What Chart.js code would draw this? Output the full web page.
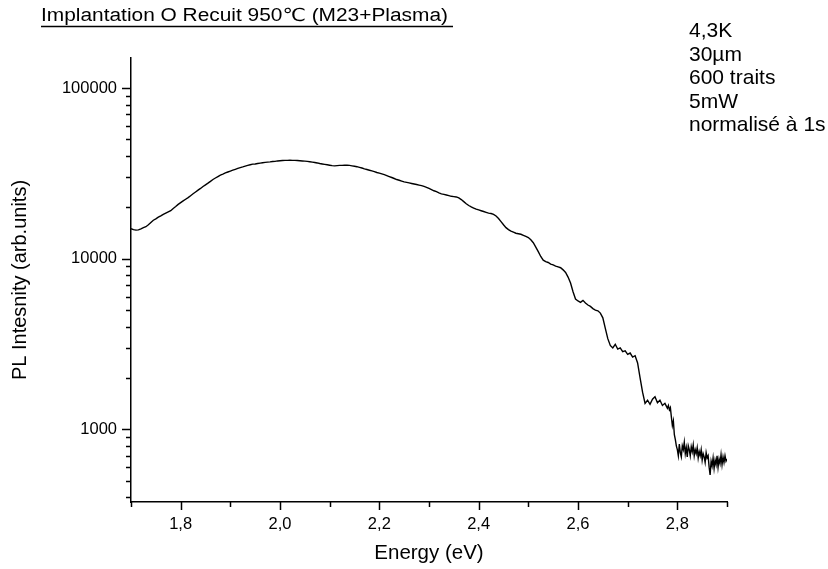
<!DOCTYPE html>
<html>
<head>
<meta charset="utf-8">
<script src="https://cdn.jsdelivr.net/npm/chart.js@4.4.1/dist/chart.umd.min.js"></script>
<style>
html,body{margin:0;padding:0;background:#fff;}
canvas{display:block;}
</style>
</head>
<body>
<canvas id="c" width="828" height="569"></canvas>
<script>
// ---- data ----
const chartTitle = "Implantation O Recuit 950\u2103 (M23+Plasma)";
const notes = ["4,3K", "30\u00b5m", "600 traits", "5mW", "normalis\u00e9 \u00e0 1s"];
const xAxisTitle = "Energy (eV)";
const yAxisTitle = "PL Intesnity (arb.units)";

// main part of the spectrum: grid 1.700 ... 2.775 eV, step 0.005 eV
const mainStart = 1.70;
const mainStep = 0.005;
const mainIntensities = [
  15000,14800,14700,14750,14950,15200,15400,15800,16300,16800,
  17100,17500,17800,18200,18500,18800,19100,19700,20200,20800,
  21300,21800,22300,22800,23400,24000,24600,25200,25800,26500,
  27100,27700,28400,29100,29700,30300,30900,31300,31800,32200,
  32600,33000,33400,33800,34200,34500,34900,35200,35500,35800,
  35900,36100,36300,36500,36700,36800,36900,37100,37200,37400,
  37500,37600,37700,37700,37800,37700,37700,37600,37500,37400,
  37300,37200,37000,36800,36600,36400,36100,35900,35700,35500,
  35300,35100,35000,35100,35200,35200,35300,35300,35200,35000,
  34800,34600,34300,34000,33600,33300,33000,32700,32400,32000,
  31700,31400,31100,30700,30300,29900,29500,29100,28800,28500,
  28200,28000,27800,27600,27400,27200,27000,26800,26500,26200,
  25800,25400,25000,24700,24300,24000,23800,23600,23400,23200,
  23100,23000,22700,22200,21600,21000,20500,20100,19800,19500,
  19300,19100,18900,18700,18500,18400,18200,17800,17200,16500,
  15800,15200,14800,14500,14300,14100,14000,13900,13700,13500,
  13300,12900,12400,11700,11000,10300,9800,9600,9500,9300,
  9200,9050,8950,8850,8600,8300,7800,7200,6400,5800,
  5650,5550,5700,5500,5350,5250,5100,5000,4950,4800,
  4500,3900,3400,3100,3000,3150,2950,3000,2850,2880,
  2750,2800,2650,2700,2450,2000,1650,1420,1480,1400,
  1500,1550,1430,1480,1380,1420
];

// noisy tail of the spectrum: grid 2.780 ... 2.900 eV, step 0.002 eV
const tailStart = 2.78;
const tailStep = 0.002;
const tailIntensities = [
  1330,1380,1300,1340,1180,1050,1120,930,870,800,
  760,700,820,730,690,800,760,840,720,780,
  690,800,760,700,790,740,810,700,760,720,
  780,680,740,700,760,660,720,690,640,730,
  680,700,600,540,650,610,680,590,660,620,
  700,600,670,630,710,620,690,640,700,650,
  670
];

// axis ranges and ticks
const xMin = 1.7, xMax = 2.9;
const yMin = 375, yMax = 150000;
const xMajorTicks = [1.8, 2.0, 2.2, 2.4, 2.6, 2.8];
const xMinorTicks = [1.7, 1.9, 2.1, 2.3, 2.5, 2.7, 2.9];
const yMajorTicks = [1000, 10000, 100000];
const yMinorTicks = [400,500,600,700,800,900,
                     2000,3000,4000,5000,6000,7000,8000,9000,
                     20000,30000,40000,50000,60000,70000,80000,90000];

const points = mainIntensities.map((v, i) => ({ x: +(mainStart + i * mainStep).toFixed(4), y: v }))
  .concat(tailIntensities.map((v, i) => ({ x: +(tailStart + i * tailStep).toFixed(4), y: v })));

const FONT = "'Liberation Sans', Arial, 'DejaVu Sans', sans-serif";

const decorPlugin = {
  id: 'decor',
  afterDraw(chart) {
    const ctx = chart.ctx;
    const xs = chart.scales.x, ys = chart.scales.y;
    const area = chart.chartArea;
    ctx.save();
    ctx.strokeStyle = '#000';
    ctx.lineWidth = 1.5;
    // y ticks
    const yt = (v, len) => {
      const p = Math.round(ys.getPixelForValue(v)) + 0.5;
      ctx.beginPath(); ctx.moveTo(area.left - len, p); ctx.lineTo(area.left, p); ctx.stroke();
    };
    yMajorTicks.forEach(v => yt(v, 9));
    yMinorTicks.forEach(v => yt(v, 5));
    // x ticks
    const xt = (v, len) => {
      const p = Math.round(xs.getPixelForValue(v)) + 0.5;
      ctx.beginPath(); ctx.moveTo(p, area.bottom); ctx.lineTo(p, area.bottom + len); ctx.stroke();
    };
    xMajorTicks.forEach(v => xt(v, 8));
    xMinorTicks.forEach(v => xt(v, 5));

    // title with underline (slightly wide lettering as in the reference)
    ctx.fillStyle = '#000';
    ctx.textAlign = 'left';
    ctx.textBaseline = 'alphabetic';
    ctx.font = '18px ' + FONT;
    const sx = 1.16;
    const w = ctx.measureText(chartTitle).width * sx;
    ctx.save();
    ctx.translate(41, 21);
    ctx.scale(sx, 1);
    ctx.fillText(chartTitle, 0, 0);
    ctx.restore();
    ctx.lineWidth = 1.3;
    ctx.beginPath(); ctx.moveTo(41, 26.5); ctx.lineTo(41 + w + 5, 26.5); ctx.stroke();

    // notes
    ctx.font = '21px ' + FONT;
    notes.forEach((t, i) => ctx.fillText(t, 689, 37 + i * 23.5));
    ctx.restore();
  }
};

new Chart(document.getElementById('c'), {
  type: 'line',
  data: {
    datasets: [{
      data: points,
      borderColor: '#000',
      borderWidth: 1.4,
      pointRadius: 0,
      tension: 0,
      fill: false
    }]
  },
  options: {
    responsive: false,
    animation: false,
    devicePixelRatio: 1,
    layout: { padding: { left: 0, top: 58, right: 101, bottom: 0 } },
    plugins: { legend: { display: false }, tooltip: { enabled: false }, title: { display: false } },
    scales: {
      x: {
        type: 'linear', min: xMin, max: xMax,
        afterBuildTicks: s => { s.ticks = xMajorTicks.map(v => ({ value: v })); },
        afterFit: s => { s.height = 67; },
        grid: { display: false, drawTicks: false },
        border: { display: true, color: '#000', width: 1.5 },
        ticks: {
          color: '#000', padding: 13, maxRotation: 0, autoSkip: false,
          font: { family: FONT, size: 16.5 },
          callback: v => v.toFixed(1).replace('.', ',')
        },
        title: { display: true, text: xAxisTitle, color: '#000', font: { family: FONT, size: 20.5 }, padding: { top: 0, bottom: 3 } }
      },
      y: {
        type: 'logarithmic', min: yMin, max: yMax,
        afterBuildTicks: s => { s.ticks = yMajorTicks.map(v => ({ value: v })); },
        afterFit: s => { s.width = 131; },
        grid: { display: false, drawTicks: false },
        border: { display: true, color: '#000', width: 1.5 },
        ticks: {
          color: '#000', padding: 14, autoSkip: false,
          font: { family: FONT, size: 16.5 },
          callback: v => String(v)
        },
        title: { display: true, text: yAxisTitle, color: '#000', font: { family: FONT, size: 20 }, padding: { top: 8, bottom: 0 } }
      }
    }
  },
  plugins: [decorPlugin]
});
</script>
</body>
</html>
